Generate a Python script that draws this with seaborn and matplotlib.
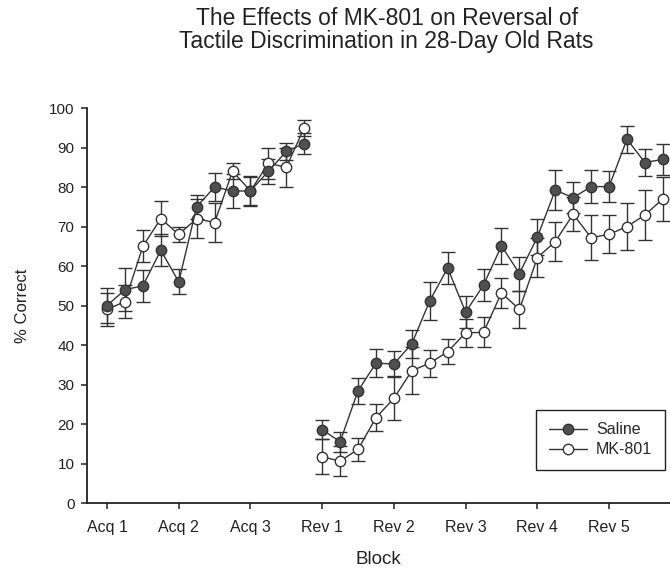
import numpy as np
import pandas as pd
import matplotlib
matplotlib.use("Agg")
import matplotlib.pyplot as plt
from matplotlib.lines import Line2D
import seaborn as sns

# ---- data ----
block_labels = ["Acq 1", "Acq 2", "Acq 3", "Rev 1", "Rev 2", "Rev 3", "Rev 4", "Rev 5"]
points_per_block = 4

saline_acq = [50, 54, 55, 64, 56, 75, 80, 79, 79, 84, 89, 91]
saline_acq_err = [4.4, 5.5, 4.0, 4.0, 3.2, 3.0, 3.5, 4.2, 3.8, 3.2, 2.2, 2.6]
mk_acq = [49, 51, 65, 72, 68, 72, 71, 84, 79, 86, 85, 95]
mk_acq_err = [4.2, 4.2, 4.0, 4.5, 1.8, 5.0, 5.0, 2.0, 3.5, 3.9, 5.0, 2.0]

saline_rev = [18.6, 15.5, 28.4, 35.4, 35.2, 40.3, 51.2, 59.5, 48.3, 55.2,
              65.1, 58.1, 67.3, 79.2, 77.3, 80.1, 80.1, 92.1, 86.2, 87.0]
saline_rev_err = [2.5, 2.5, 3.3, 3.6, 3.4, 3.5, 4.8, 4.0, 4.0, 4.1,
                  4.5, 4.3, 4.6, 5.0, 4.0, 4.1, 4.0, 3.4, 3.4, 3.9]
mk_rev = [11.7, 10.6, 13.6, 21.6, 26.5, 33.5, 35.4, 38.3, 43.1, 43.2,
          53.2, 49.0, 62.1, 66.2, 73.1, 67.2, 68.0, 70.0, 72.9, 77.0]
mk_rev_err = [4.4, 3.8, 2.9, 3.4, 5.6, 6.0, 3.4, 3.2, 3.5, 3.8,
              3.8, 4.6, 5.0, 5.0, 4.3, 5.6, 4.8, 6.0, 6.3, 5.6]

groups = ["Saline", "MK-801"]

# ---- table ----
rows = []
n_acq = len(saline_acq)
for grp, acq, acq_e, rev, rev_e in [("Saline", saline_acq, saline_acq_err, saline_rev, saline_rev_err),
                                   ("MK-801", mk_acq, mk_acq_err, mk_rev, mk_rev_err)]:
    for i, (v, e) in enumerate(zip(acq, acq_e)):
        rows.append(dict(x=i, pct=v, err=e, group=grp, phase="Acq"))
    for i, (v, e) in enumerate(zip(rev, rev_e)):
        rows.append(dict(x=n_acq + i, pct=v, err=e, group=grp, phase="Rev"))
df = pd.DataFrame(rows)

# ---- style ----
sns.set_style("ticks")
plt.rcParams["font.family"] = ["Liberation Sans", "DejaVu Sans"]

fig = plt.figure(figsize=(6.7, 5.7), dpi=100)
ax = fig.add_axes([0.1299, 0.1175, 0.8701, 0.693])

dark = "#333333"
fill = "#505050"
styles = {
    "Saline": dict(mfc=fill, zorder=4),
    "MK-801": dict(mfc="white", zorder=3),
}

for grp in ["MK-801", "Saline"]:
    sub = df[df.group == grp]
    ax.errorbar(sub.x, sub.pct, yerr=sub.err, fmt="none", ecolor=dark,
                elinewidth=1.0, capsize=4.8, capthick=1.0, zorder=2)

for grp in ["MK-801", "Saline"]:
    sub = df[df.group == grp]
    sns.lineplot(data=sub, x="x", y="pct", units="phase", estimator=None,
                 ax=ax, color=dark, lw=1.0, marker="o", markersize=7.5,
                 markeredgecolor=dark, markeredgewidth=1.0,
                 markerfacecolor=styles[grp]["mfc"], zorder=styles[grp]["zorder"],
                 legend=False, clip_on=False)

ax.set_xlim(-1.115, 31.4)
ax.set_ylim(0, 100)
ax.set_yticks(np.arange(0, 101, 10))
ax.set_xticks(np.arange(len(block_labels)) * points_per_block)
ax.set_xticklabels(block_labels)

sns.despine(ax=ax)
for s in ["left", "bottom"]:
    ax.spines[s].set_linewidth(1.3)
    ax.spines[s].set_color("#222222")
ax.tick_params(axis="both", direction="out", length=4, width=1.1, color="#222222",
               labelsize=11, labelcolor="#222222", pad=5)
ax.tick_params(axis="x", labelsize=11.5, pad=8)

ax.set_xlabel("Block", fontsize=13.5, color="#222222", labelpad=12)
ax.set_ylabel("% Correct", fontsize=12, color="#222222", labelpad=14)

handles = [
    Line2D([], [], color=dark, lw=1.0, marker="o", markersize=7.5,
           markerfacecolor=fill, markeredgecolor=dark),
    Line2D([], [], color=dark, lw=1.0, marker="o", markersize=7.5,
           markerfacecolor="white", markeredgecolor=dark),
]
leg = ax.legend(handles, groups, loc="lower right", bbox_to_anchor=(0.991, 0.0835),
                fontsize=11.5, frameon=True, fancybox=False, framealpha=1,
                edgecolor="#222222", borderpad=0.8, labelspacing=0.3,
                handlelength=2.4, handletextpad=0.55, borderaxespad=0)
leg.get_frame().set_linewidth(1.0)

fig.text(0.577, 0.948, "The Effects of MK-801 on Reversal of\nTactile Discrimination in 28-Day Old Rats",
         ha="center", va="center", fontsize=16.5, color="#222222", linespacing=1.0)

fig.savefig("out.png", dpi=100, facecolor="white")
